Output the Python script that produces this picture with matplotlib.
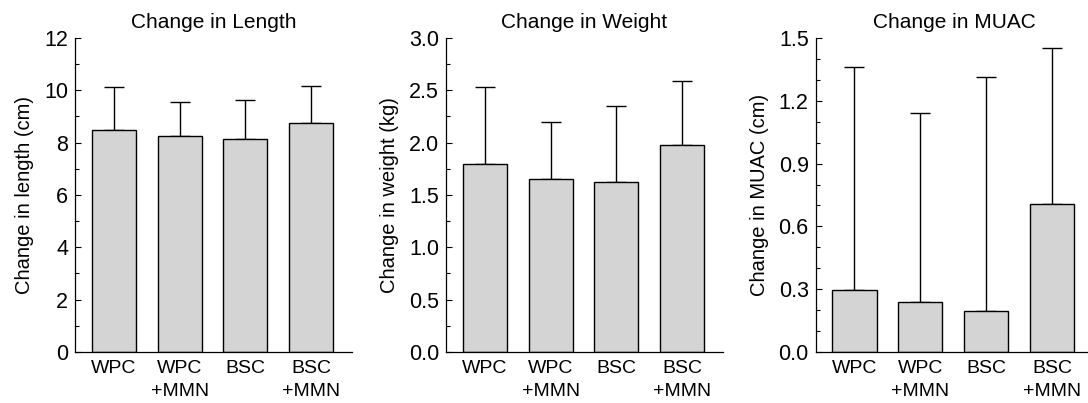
import numpy as np
import matplotlib.pyplot as plt
from matplotlib.ticker import MultipleLocator

plt.rcParams['font.family'] = ['Liberation Sans', 'DejaVu Sans']

# data
groups = ["WPC", "WPC\n+MMN", "BSC", "BSC\n+MMN"]

length_mean = [8.50, 8.25, 8.15, 8.75]
length_sd = [1.63, 1.29, 1.47, 1.43]

weight_mean = [1.80, 1.65, 1.62, 1.98]
weight_sd = [0.73, 0.55, 0.73, 0.61]

muac_mean = [0.295, 0.240, 0.197, 0.709]
muac_sd = [1.068, 0.900, 1.118, 0.745]

panels = [
    ("Change in Length", "Change in length (cm)", length_mean, length_sd, 12, 2, 1, "{:.0f}"),
    ("Change in Weight", "Change in weight (kg)", weight_mean, weight_sd, 3.0, 0.5, 0.25, "{:.1f}"),
    ("Change in MUAC", "Change in MUAC (cm)", muac_mean, muac_sd, 1.5, 0.3, 0.1, "{:.1f}"),
]

fig = plt.figure(figsize=(10.88, 4.03), dpi=100)
lefts = [0.0689, 0.4099, 0.7497]
bottom, height, width = 0.1266, 0.7791, 0.2546

x = np.arange(len(groups))
for left, (title, ylab, mean, sd, ymax, major, minor, fmt) in zip(lefts, panels):
    ax = fig.add_axes([left, bottom, width, height])
    ax.errorbar(x, mean, yerr=[np.zeros(len(sd)), sd], fmt='none', ecolor='black',
                elinewidth=1, capsize=7.5, capthick=1, zorder=1)
    ax.bar(x, mean, width=0.67, color='#d4d4d4', edgecolor='black', linewidth=1, zorder=2)
    ax.set_xlim(-0.59, 3.62)
    ax.set_ylim(0, ymax)
    ax.yaxis.set_major_locator(MultipleLocator(major))
    ax.yaxis.set_minor_locator(MultipleLocator(minor))
    ax.set_yticks(ax.get_yticks())
    ax.set_yticklabels([fmt.format(v) for v in ax.get_yticks()])
    ax.set_ylim(0, ymax)
    ax.tick_params(axis='y', which='major', direction='in', length=4, width=0.8, labelsize=15.5, pad=5)
    ax.tick_params(axis='y', which='minor', direction='in', length=3, width=0.8)
    ax.set_xticks(x)
    ax.set_xticklabels(groups, fontsize=14, linespacing=1.4)
    ax.tick_params(axis='x', length=0, pad=6)
    for s in ['top', 'right']:
        ax.spines[s].set_visible(False)
    for s in ['left', 'bottom']:
        ax.spines[s].set_linewidth(0.9)
    ax.set_title(title, fontsize=15, pad=7)
    ax.set_ylabel(ylab, fontsize=14.5, labelpad=7)

fig.savefig("out.png", dpi=100)
